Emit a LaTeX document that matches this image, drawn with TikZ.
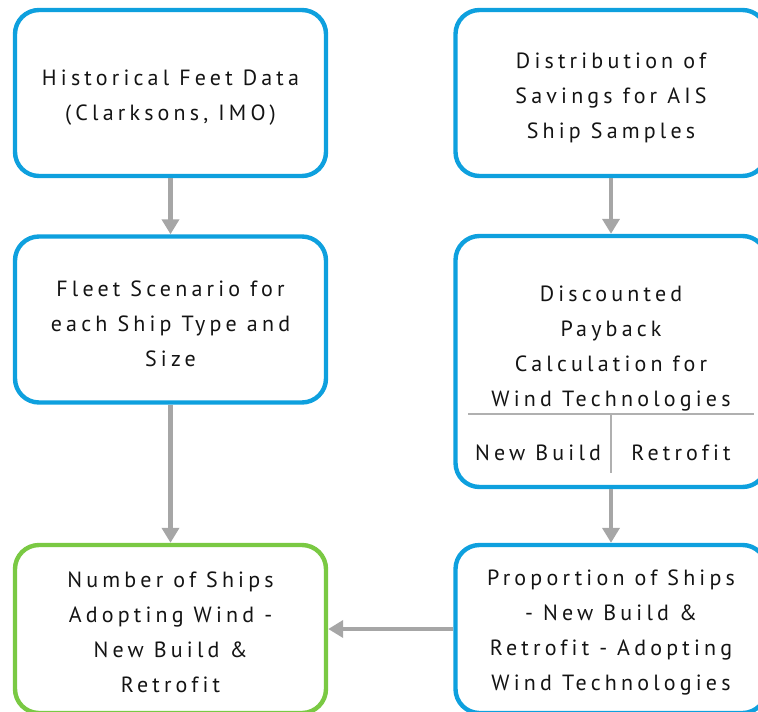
\documentclass[tikz,border=0pt]{standalone}
\usepackage{fontspec}
\setmainfont{PT Sans}[LetterSpace=19,Ligatures=CommonOff]
\usepackage{tikz}
\usetikzlibrary{arrows.meta,positioning}
\definecolor{boxblue}{HTML}{0EA0DE}
\definecolor{leafgreen}{HTML}{7AC943}
\definecolor{arrowgray}{HTML}{A6A6A6}
\definecolor{rulegray}{HTML}{B0B0B0}
\definecolor{ink}{HTML}{141414}
\tikzset{
  stage/.style={draw=boxblue,fill=white,line width=2.2pt,rounded corners=12pt,
                minimum width=155.5pt,minimum height=83pt},
  result/.style={stage,draw=leafgreen},
  boxtext/.style={align=center,text=ink,font=\fontsize{11}{17.5}\selectfont},
  flow/.style={-{Triangle[length=7.5pt,width=8.5pt]},line width=2.4pt,arrowgray},
  divider/.style={line width=0.8pt,rulegray},
}
\begin{document}
\begin{tikzpicture}[x=0.5pt,y=-0.5pt]
  \useasboundingbox(0,0)rectangle(758,711);
  % left column
  \node[stage](hist)at(170.5,93){};
  \node[boxtext](histtext)at([yshift=-2.3pt]hist.center){Historical Feet Data\\(Clarksons, IMO)};
  \node[stage](fleet)at(170.5,319.5){};
  \node[boxtext](fleettext)at([yshift=-2pt]fleet.center){Fleet Scenario for\\each Ship Type and\\Size};
  \node[result,minimum height=84pt](ships)at(170.5,629){};
  \node[boxtext](shipstext)at([yshift=-1.7pt]ships.center){Number of Ships\\Adopting Wind -\\New Build \&\\Retrofit};
  % right column
  \node[stage](dist)at(611,93){};
  \node[boxtext](disttext)at([yshift=-2.3pt]dist.center){Distribution of\\Savings for AIS\\Ship Samples};
  \node[stage,minimum height=125.5pt](calc)at(611,361.5){};
  \node[boxtext](calctext)at(611,349){Discounted\\Payback\\Calculation for\\Wind Technologies};
  \node[boxtext](newbuild)at(538,453){New Build};
  \node[boxtext](retrofit)at(681,453){Retrofit};
  \draw[divider](468,414)--(754,414);
  \draw[divider](611,414)--(611,473);
  \node[stage,minimum height=84pt](share)at(611,629){};
  \node[boxtext](sharetext)at([yshift=-1.9pt]share.center){Proportion of Ships\\- New Build \&\\Retrofit - Adopting\\Wind Technologies};
  % connectors
  \draw[flow](hist)--(fleet);
  \draw[flow](fleet)--(ships);
  \draw[flow](dist)--(calc);
  \draw[flow](calc)--(share);
  \draw[flow](share)--(ships);
\end{tikzpicture}
\end{document}
